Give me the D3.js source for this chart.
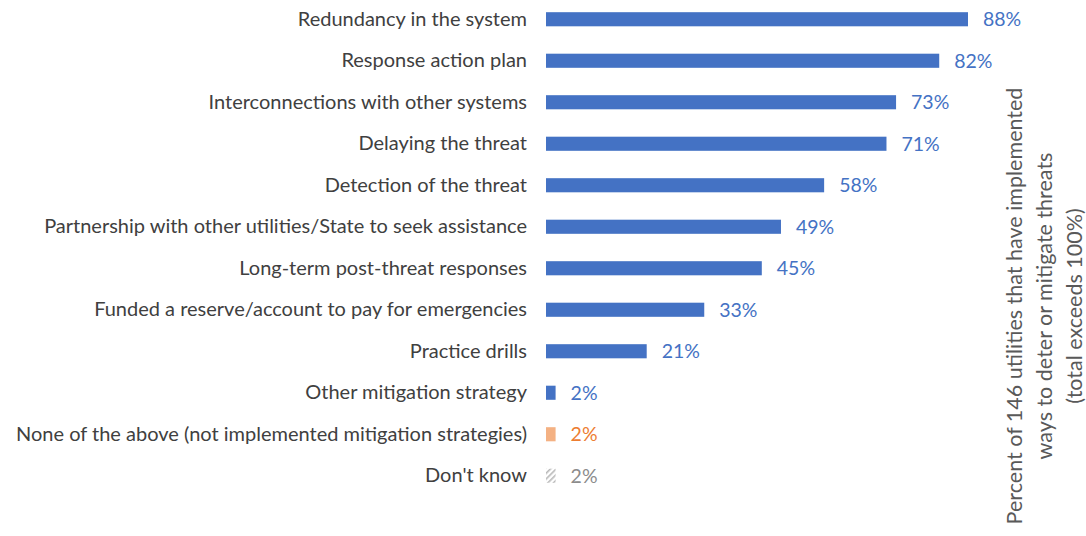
<!DOCTYPE html>
<html>
<head>
<meta charset="utf-8">
<script src="https://cdn.jsdelivr.net/npm/d3@7/dist/d3.min.js"></script>
<style>
  html, body { margin: 0; padding: 0; background: #ffffff; }
  svg { display: block; }
</style>
</head>
<body>
<svg id="chart" width="1086" height="536"></svg>
<script>
// Mitigation strategies and share of utilities reporting each one
const categories = [
  "Redundancy in the system",
  "Response action plan",
  "Interconnections with other systems",
  "Delaying the threat",
  "Detection of the threat",
  "Partnership with other utilities/State to seek assistance",
  "Long-term post-threat responses",
  "Funded a reserve/account to pay for emergencies",
  "Practice drills",
  "Other mitigation strategy",
  "None of the above (not implemented mitigation strategies)",
  "Don't know"
];
const values = [88, 82, 73, 71, 58, 49, 45, 33, 21, 2, 2, 2];
const groups = ["strategy", "strategy", "strategy", "strategy", "strategy", "strategy",
                "strategy", "strategy", "strategy", "strategy", "none", "unknown"];
const axisTitleLines = [
  "Percent of 146 utilities that have implemented",
  "ways to deter or mitigate threats",
  "(total exceeds 100%)"
];

const fillColor = { strategy: "#4472C4", none: "#F4B183", unknown: "url(#hatch)" };
const textColor = { strategy: "#4472C4", none: "#ED7D31", unknown: "#8c8c8c" };

const svg = d3.select("#chart");
const font = "Lato, 'Open Sans', sans-serif";

// Light diagonal hatch for the "Don't know" bar
const defs = svg.append("defs");
const pat = defs.append("pattern")
  .attr("id", "hatch")
  .attr("patternUnits", "userSpaceOnUse")
  .attr("width", 4).attr("height", 4)
  .attr("patternTransform", "rotate(-45)");
pat.append("rect").attr("width", 4).attr("height", 4).attr("fill", "#ffffff");
pat.append("rect").attr("width", 4).attr("height", 1.6).attr("fill", "#b8b8b8");

const x0 = 546;
const x = d3.scaleLinear().domain([0, 88]).range([x0, 968]);
const y = d3.scaleBand().domain(categories).range([-1.5, 496.5]).paddingInner(0.66).paddingOuter(0.33);

// Category labels
const yAxis = svg.append("g")
  .attr("transform", `translate(${x0},0)`)
  .call(d3.axisLeft(y).tickSize(0).tickPadding(19));
yAxis.select(".domain").remove();
yAxis.selectAll("text")
  .attr("font-family", font)
  .attr("font-size", 20)
  .attr("fill", "#404040");

// Bars
svg.append("g").selectAll("rect")
  .data(categories)
  .join("rect")
  .attr("x", x(0))
  .attr("y", d => y(d))
  .attr("width", (d, i) => x(values[i]) - x(0))
  .attr("height", y.bandwidth())
  .attr("fill", (d, i) => fillColor[groups[i]]);

// Value labels
svg.append("g").selectAll("text")
  .data(categories)
  .join("text")
  .attr("x", (d, i) => x(values[i]) + 15)
  .attr("y", d => y(d) + y.bandwidth() / 2)
  .attr("dy", "0.35em")
  .attr("font-family", font)
  .attr("font-size", 19.5)
  .attr("fill", (d, i) => textColor[groups[i]])
  .text((d, i) => values[i] + "%");

// Rotated axis title
const title = svg.append("text")
  .attr("transform", "translate(1022,306) rotate(-90)")
  .attr("text-anchor", "middle")
  .attr("font-family", font)
  .attr("font-size", 21.5)
  .attr("fill", "#595959");
title.selectAll("tspan")
  .data(axisTitleLines)
  .join("tspan")
  .attr("x", 0)
  .attr("dy", (d, i) => i === 0 ? "0em" : "1.4em")
  .text(d => d);
</script>
</body>
</html>
